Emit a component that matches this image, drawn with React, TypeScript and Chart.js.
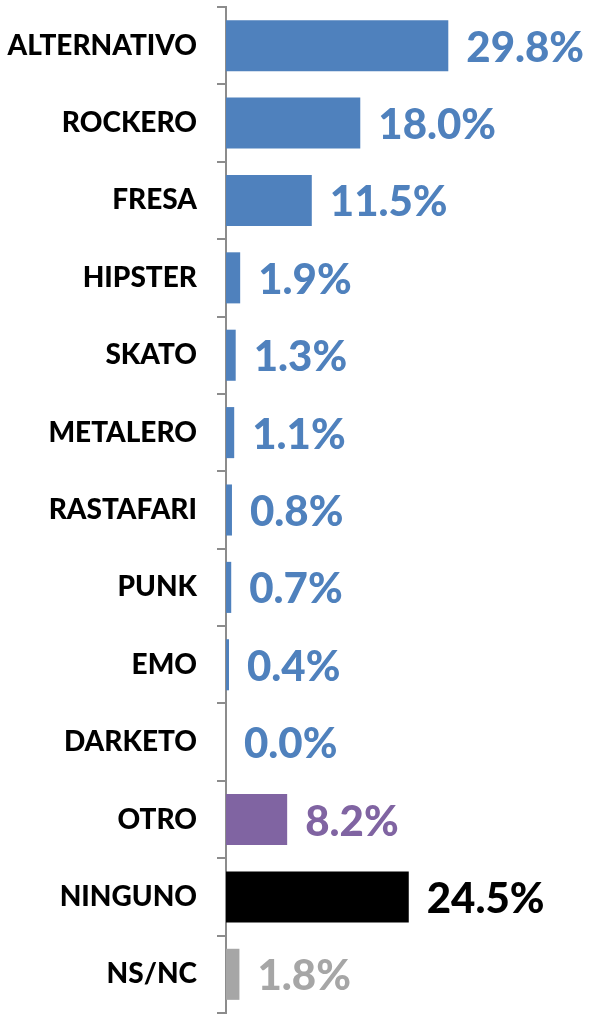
import React, { useEffect, useRef } from "react";
import { Chart, registerables } from "chart.js";

Chart.register(...registerables);

const categories = [
  "ALTERNATIVO", "ROCKERO", "FRESA", "HIPSTER", "SKATO", "METALERO",
  "RASTAFARI", "PUNK", "EMO", "DARKETO", "OTRO", "NINGUNO", "NS/NC",
];
const values = [29.8, 18.0, 11.5, 1.9, 1.3, 1.1, 0.8, 0.7, 0.4, 0.0, 8.2, 24.5, 1.8];
const valueLabels = ["29.8%", "18.0%", "11.5%", "1.9%", "1.3%", "1.1%", "0.8%", "0.7%", "0.4%", "0.0%", "8.2%", "24.5%", "1.8%"];
const BLUE = "#4F81BD";
const PURPLE = "#8064A2";
const BLACK = "#000000";
const GREY = "#A6A6A6";
const barColors = [BLUE, BLUE, BLUE, BLUE, BLUE, BLUE, BLUE, BLUE, BLUE, BLUE, PURPLE, BLACK, GREY];

const valueLabelPlugin = {
  id: "valueLabels",
  afterDatasetsDraw(chart: any) {
    const ctx = chart.ctx;
    const meta = chart.getDatasetMeta(0);
    ctx.save();
    ctx.font = "900 42px Lato";
    ctx.textAlign = "left";
    ctx.textBaseline = "alphabetic";
    meta.data.forEach((bar: any, i: number) => {
      ctx.fillStyle = barColors[i];
      ctx.fillText(valueLabels[i], bar.x + 18, bar.y + 16);
    });
    ctx.restore();
  },
};

export default function App() {
  const ref = useRef<HTMLCanvasElement | null>(null);
  useEffect(() => {
    if (!ref.current) return;
    const chart = new Chart(ref.current, {
      type: "bar",
      data: {
        labels: categories,
        datasets: [
          {
            data: values,
            backgroundColor: barColors,
            borderWidth: 0,
            categoryPercentage: 1,
            barPercentage: 0.66,
          },
        ],
      },
      options: {
        indexAxis: "y",
        animation: false,
        responsive: false,
        maintainAspectRatio: false,
        layout: { autoPadding: false, padding: { top: 7, bottom: 2, left: 0, right: 0 } },
        plugins: { legend: { display: false }, tooltip: { enabled: false } },
        scales: {
          x: { display: false, min: 0, max: 49.6 },
          y: {
            afterFit: (scale: any) => {
              scale.width = 226;
              scale.paddingTop = 0;
              scale.paddingBottom = 0;
            },
            grid: {
              offset: true,
              drawOnChartArea: false,
              drawTicks: true,
              tickLength: 9,
              color: "#8C8C8C",
              lineWidth: 2,
            },
            border: { display: true, color: "#8C8C8C", width: 2 },
            ticks: {
              padding: 20,
              color: "#000000",
              font: { family: "Lato", weight: "900", size: 28 },
            },
          },
        },
      },
      plugins: [valueLabelPlugin],
    });
    return () => chart.destroy();
  }, []);
  return (
    <div style={{ position: "absolute", left: 0, top: 0, width: 596, height: 1015, background: "#fff" }}>
      <canvas ref={ref} width={596} height={1015} style={{ width: 596, height: 1015 }} />
    </div>
  );
}
